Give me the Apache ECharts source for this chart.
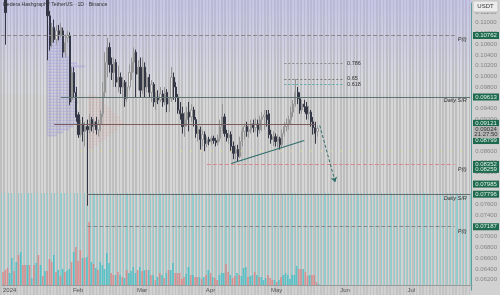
<!DOCTYPE html>
<html>
<head>
<meta charset="utf-8">
<script src="https://cdn.jsdelivr.net/npm/echarts@6/dist/echarts.min.js"></script>
<style>
	html, body { margin: 0; padding: 0; background: #c6c6c6; }
	#wrap { position: relative; width: 500px; height: 295px; overflow: hidden; background: #c5c5c5; }
	.band { position: absolute; left: 0; width: 472px; }
	#top { top: 0; height: 95px; background: repeating-linear-gradient(90deg, #c0c0c3 0 1.6px, #d7d7e0 1.6px 3.3px); }
	#topTint { top: 0; height: 80px; background: linear-gradient(to bottom, rgba(176,176,236,0.45), rgba(176,176,236,0) 80px); }
	#mid { top: 95px; height: 98px; background: repeating-linear-gradient(90deg, #bebebe 0 1.6px, #d6d6d6 1.6px 3.3px); }
	#low { top: 193px; height: 92px; background: repeating-linear-gradient(90deg, #c0c0c0 0 1.1px, #92cccd 1.1px 2.2px, #d3d3d3 2.2px 3.3px); }
	#timeStrip { top: 285px; height: 10px; background: repeating-linear-gradient(90deg, #c3c3c3 0 1.6px, #d0d0d0 1.6px 3.3px); }
	#priceStrip { position: absolute; left: 472px; top: 0; width: 28px; height: 295px; background: #d1d1d1; }
	#chart { position: absolute; left: 0; top: 0; width: 500px; height: 295px; }
</style>
</head>
<body>
<div id="wrap">
	<div class="band" id="top"></div>
	<div class="band" id="topTint"></div>
	<div class="band" id="mid"></div>
	<div class="band" id="low"></div>
	<div class="band" id="timeStrip"></div>
	<div id="priceStrip"></div>
	<div id="chart"></div>
</div>
<script>
	var titleText = 'Hedera Hashgraph / TetherUS · 1D · Binance';

	// daily categories, 29 Dec 2023 .. 28 Jul 2024
	var dates = [];
	(function() {
		var d = new Date(Date.UTC(2023, 11, 29));
		for (var i = 0; i < 213; i++) {
			dates.push(d.toISOString().slice(0, 10));
			d.setUTCDate(d.getUTCDate() + 1);
		}
	})();

	var monthLabels = {
		'2024-01-01': '2024', '2024-02-01': 'Feb', '2024-03-01': 'Mar', '2024-04-01': 'Apr',
		'2024-05-01': 'May', '2024-06-01': 'Jun', '2024-07-01': 'Jul'
	};

	var priceMin = 0.060, priceMax = 0.1137, priceStep = 0.002;

	var opens = [0.1248,0.1211,0.1165,0.1183,0.1211,0.1239,0.1220,0.1257,0.1244,0.1267,0.1230,0.1202,0.1220,0.1193,0.1207,0.1183,0.1196,0.1174,0.1189,0.1170,0.1178,
		0.1156,0.1113,0.1063,0.1091,0.1069,0.1085,0.1078,0.1085,0.1045,0.1072,0.1076,0.0956,0.1007,0.0970,0.0928,0.0891,0.0911,0.0897,0.0906,0.0900,
		0.0919,0.0906,0.0915,0.0900,0.0911,0.0930,0.0970,0.1026,0.1054,0.1022,0.1007,0.1026,0.0989,0.0998,0.0980,0.0989,0.0958,0.0980,0.1007,0.1026,
		0.1045,0.1004,0.1017,0.0974,0.1017,0.0980,0.0998,0.0970,0.0985,0.0952,0.0961,0.0956,0.0967,0.0952,0.0970,0.0948,0.0958,0.0998,0.0980,0.0961,
		0.0937,0.0930,0.0906,0.0919,0.0933,0.0924,0.0937,0.0919,0.0893,0.0900,0.0882,0.0891,0.0874,0.0882,0.0878,0.0884,0.0880,0.0876,0.0884,0.0906,
		0.0924,0.0893,0.0885,0.0891,0.0869,0.0856,0.0863,0.0850,0.0878,0.0897,0.0906,0.0897,0.0900,0.0911,0.0904,0.0911,0.0900,0.0919,0.0924,0.0928,
		0.0930,0.0891,0.0882,0.0887,0.0878,0.0884,0.0872,0.0893,0.0906,0.0911,0.0919,0.0933,0.0948,0.0970,0.0958,0.0937,0.0948,0.0943,0.0930,0.0933,
		0.0915,0.0904,0.0897];
	var closes = [0.1211,0.1174,0.1119,0.1211,0.1239,0.1220,0.1257,0.1244,0.1267,0.1230,0.1202,0.1220,0.1193,0.1207,0.1183,0.1196,0.1174,0.1189,0.1170,0.1178,0.1156,
		0.1113,0.1057,0.1091,0.1069,0.1085,0.1078,0.1091,0.1045,0.1063,0.1076,0.0952,0.1007,0.0970,0.0924,0.0891,0.0911,0.0897,0.0906,0.0900,0.0919,
		0.0906,0.0915,0.0900,0.0911,0.0930,0.0970,0.1026,0.1054,0.1022,0.1007,0.1026,0.0989,0.0998,0.0980,0.0989,0.0958,0.0980,0.1007,0.1026,0.1045,
		0.1004,0.1017,0.0974,0.1017,0.0980,0.0998,0.0970,0.0985,0.0952,0.0961,0.0956,0.0967,0.0952,0.0970,0.0948,0.0958,0.0998,0.0980,0.0961,0.0937,
		0.0930,0.0906,0.0919,0.0933,0.0924,0.0937,0.0919,0.0893,0.0900,0.0882,0.0891,0.0874,0.0882,0.0878,0.0884,0.0880,0.0876,0.0884,0.0906,0.0924,
		0.0893,0.0885,0.0891,0.0869,0.0856,0.0863,0.0850,0.0878,0.0897,0.0906,0.0897,0.0900,0.0911,0.0904,0.0911,0.0900,0.0919,0.0924,0.0928,0.0919,
		0.0891,0.0882,0.0887,0.0878,0.0884,0.0872,0.0893,0.0906,0.0911,0.0919,0.0933,0.0948,0.0970,0.0958,0.0937,0.0948,0.0943,0.0930,0.0933,0.0915,
		0.0904,0.0893,0.09024];
	var lows = [0.1193,0.1156,0.1059,0.1159,0.1193,0.1207,0.1211,0.1230,0.1233,0.1220,0.1183,0.1189,0.1178,0.1174,0.1165,0.1170,0.1159,0.1163,0.1152,0.1148,0.1143,
		0.1030,0.1048,0.1054,0.1063,0.1059,0.1067,0.1072,0.1035,0.1035,0.1063,0.0946,0.0952,0.0961,0.0915,0.0885,0.0887,0.0878,0.0869,0.0758,0.0893,
		0.0897,0.0893,0.0891,0.0887,0.0897,0.0924,0.0961,0.0998,0.1007,0.0993,0.0980,0.0980,0.0970,0.0967,0.0961,0.0943,0.0952,0.0974,0.0993,0.1007,
		0.0961,0.0974,0.0961,0.0967,0.0961,0.0970,0.0961,0.0952,0.0943,0.0937,0.0948,0.0952,0.0943,0.0946,0.0933,0.0933,0.0952,0.0956,0.0952,0.0930,
		0.0919,0.0893,0.0887,0.0906,0.0897,0.0915,0.0906,0.0885,0.0878,0.0863,0.0869,0.0860,0.0867,0.0871,0.0872,0.0874,0.0869,0.0871,0.0878,0.0897,
		0.0887,0.0878,0.0874,0.0860,0.0845,0.0845,0.0841,0.0847,0.0869,0.0882,0.0887,0.0885,0.0893,0.0895,0.0897,0.0887,0.0893,0.0897,0.0900,0.0906,
		0.0884,0.0874,0.0869,0.0869,0.0867,0.0863,0.0867,0.0887,0.0897,0.0900,0.0911,0.0924,0.0943,0.0948,0.0930,0.0930,0.0933,0.0919,0.0919,0.0906,
		0.0891,0.0874,0.0887];
	var highs = [0.1267,0.1230,0.1174,0.1230,0.1252,0.1257,0.1276,0.1270,0.1285,0.1276,0.1239,0.1230,0.1233,0.1220,0.1215,0.1211,0.1204,0.1200,0.1196,0.1189,0.1185,
		0.1174,0.1122,0.1100,0.1106,0.1096,0.1096,0.1100,0.1091,0.1078,0.1085,0.1082,0.1017,0.1017,0.0980,0.0933,0.0919,0.0924,0.0915,0.0919,0.0930,
		0.0924,0.0921,0.0924,0.0919,0.0937,0.0989,0.1045,0.1072,0.1063,0.1035,0.1035,0.1032,0.1020,0.1007,0.0998,0.0993,0.0989,0.1022,0.1035,0.1054,
		0.1050,0.1030,0.1035,0.1035,0.1026,0.1007,0.1004,0.0993,0.0989,0.0970,0.0974,0.0980,0.0974,0.0980,0.0976,0.0961,0.1017,0.1007,0.0989,0.0967,
		0.0952,0.0943,0.0933,0.0943,0.0952,0.0948,0.0943,0.0924,0.0908,0.0906,0.0900,0.0897,0.0887,0.0887,0.0889,0.0889,0.0885,0.0891,0.0919,0.0948,
		0.0930,0.0900,0.0900,0.0897,0.0878,0.0871,0.0872,0.0887,0.0904,0.0911,0.0915,0.0908,0.0919,0.0919,0.0922,0.0919,0.0926,0.0933,0.0937,0.0937,
		0.0937,0.0900,0.0897,0.0893,0.0891,0.0887,0.0900,0.0915,0.0921,0.0926,0.0943,0.0956,0.0995,0.0980,0.0970,0.0956,0.0956,0.0952,0.0945,0.0937,
		0.0924,0.0915,0.0908];
	var volumes = [65,75,85,60,135,70,115,150,165,100,100,100,100,35,100,110,150,100,45,70,70,
		130,115,150,65,75,45,80,65,70,80,115,165,190,120,175,135,135,140,315,115,
		105,85,75,115,100,80,160,110,60,50,50,65,50,40,35,75,60,70,90,60,
		75,90,70,75,75,75,50,50,25,40,60,50,35,60,75,75,110,60,60,60,
		30,40,55,90,50,50,40,40,40,30,40,50,75,60,40,35,25,50,60,60,
		105,65,50,35,45,60,50,45,85,90,40,45,50,65,50,40,40,25,35,50,
		35,25,25,15,25,40,50,60,50,30,50,50,95,80,80,80,65,45,50,50,
		50,15,5];

	// visible range volume profiles: [price, relative volume]
	var profileBin = 0.000555;
	var profileA = [[0.10852,8],[0.10797,10],[0.10741,12],[0.10686,14],[0.10630,15],[0.10575,16],[0.10519,15],[0.10464,16],
		[0.10408,18],[0.10353,20],[0.10297,22],[0.10242,24],[0.10186,30],[0.10131,38],[0.10075,28],[0.10020,26],[0.09964,27],
		[0.09909,28],[0.09853,26],[0.09798,28],[0.09742,30],[0.09687,29],[0.09631,30],[0.09576,28],[0.09520,30],[0.09465,31],
		[0.09409,29],[0.09354,30],[0.09298,31],[0.09243,30],[0.09187,30],[0.09132,31],[0.09076,32],[0.09021,26],[0.08965,22],
		[0.08910,16],[0.08854,10]];
	var profileB = [[0.09576,8],[0.09520,12],[0.09465,15],[0.09409,18],[0.09354,22],[0.09298,25],[0.09243,28],[0.09187,32],
		[0.09132,34],[0.09076,36],[0.09021,33],[0.08965,30],[0.08910,26],[0.08854,22],[0.08799,18],[0.08743,14],[0.08688,10],[0.08632,6]];

	// drawn levels
	var dailySR = [0.0961, 0.0780];
	var profilePoC = [0.1076, 0.0835, 0.0719];
	var fibLevels = [0.1024, 0.0995, 0.0985];
	var fibNames = ['0.786', '0.65', '0.618'];
	var midLevel = 0.0911;
	var dottedLevel = 0.0860;
	var supportLine = [[104, 0.0837], [137, 0.0880]];
	var projection = [[144, 0.0908], [151, 0.0802]];
	var axisTags = [0.10762, 0.09613, 0.09121, 0.08799, 0.08352, 0.08259, 0.07985, 0.07796, 0.07187];
	var countdown = '21:27:50';

	var candles = opens.map(function(o, i) { return [o, closes[i], lows[i], highs[i]]; });
	var lastClose = closes[closes.length - 1];

	function seg(a, b, p, style, extra) {
		var first = { coord: [dates[a], p], lineStyle: style };
		if (extra) for (var k in extra) first[k] = extra[k];
		return [first, { coord: [dates[b], p] }];
	}

	function profileRect(params, api) {
		var a = api.coord([0, api.value(0) + profileBin / 2]);
		var b = api.coord([api.value(1), api.value(0) - profileBin / 2]);
		return {
			type: 'rect',
			shape: { x: a[0], y: a[1], width: b[0] - a[0], height: Math.max(b[1] - a[1] - 1.2, 0.5) },
			style: api.style()
		};
	}

	var dashGray = { color: '#878787', type: 'dashed', width: 1 };

	var lineData = [
		seg(0, 205, profilePoC[0], dashGray),
		seg(93, 205, profilePoC[1], { color: '#d88a8a', type: 'dashed', width: 1 }),
		seg(39, 205, profilePoC[2], dashGray),
		seg(27, 212, dailySR[0], { color: '#5b7574', type: 'solid', width: 1 }),
		seg(39, 212, dailySR[1], { color: '#6b6b6b', type: 'solid', width: 1 }),
		seg(24, 142, midLevel, { color: '#7a5c5c', type: 'solid', width: 1 }),
		seg(36, 212, dottedLevel, { color: '#e8e08a', type: [1, 9], width: 1.5 }),
		[{ coord: [dates[supportLine[0][0]], supportLine[0][1]], lineStyle: { color: '#2f6d69', width: 1.2, type: 'solid' } },
		 { coord: [dates[supportLine[1][0]], supportLine[1][1]] }],
		[{ coord: [dates[projection[0][0]], projection[0][1]], lineStyle: { color: '#2f6d69', width: 1, type: [3, 2] } },
		 { coord: [dates[projection[1][0]], projection[1][1]], symbol: 'arrow', symbolSize: 5 }]
	];
	var fibColors = ['#8a8a8a', '#7a7a7a', '#55a8a6'];
	fibLevels.forEach(function(p, i) {
		lineData.push(seg(128, 155, p, { color: fibColors[i], type: [2, 2], width: 1 }, {
			label: { show: true, position: 'end', distance: 3, formatter: fibNames[i], fontSize: 5.5, color: '#333' }
		}));
	});

	var noteData = [
		{ coord: [dates[212], profilePoC[0]], label: { formatter: 'P(t)', offset: [0, 4] } },
		{ coord: [dates[212], dailySR[0]], label: { formatter: 'Daily S/R', offset: [0, 3.5] } },
		{ coord: [dates[212], profilePoC[1]], label: { formatter: 'P(t)', offset: [0, 5] } },
		{ coord: [dates[212], dailySR[1]], label: { formatter: 'Daily S/R', offset: [0, 4] } },
		{ coord: [dates[212], profilePoC[2]], label: { formatter: 'P(t)', offset: [0, 5] } }
	];

	var chart = echarts.init(document.getElementById('chart'), null, { renderer: 'canvas' });
	chart.setOption({
		animation: false,
		backgroundColor: 'transparent',
		textStyle: { fontFamily: 'Liberation Sans' },
		grid: [
			{ left: 0, right: 28, top: 0, bottom: 4.73 },
			{ left: 0, right: 28, bottom: 10, height: 80 },
			{ left: 47, width: 100, top: 0, bottom: 4.73 },
			{ left: 88, width: 100, top: 0, bottom: 4.73 }
		],
		xAxis: [
			{ type: 'category', gridIndex: 0, data: dates, show: false },
			{ type: 'category', gridIndex: 1, data: dates,
				axisLine: { lineStyle: { color: '#9a9a9a' } }, axisTick: { show: false }, splitLine: { show: false },
				axisLabel: {
					interval: function(i, v) { return !!monthLabels[v]; },
					formatter: function(v) { return monthLabels[v] || ''; },
					fontSize: 6, color: '#555', margin: 2
				} },
			{ type: 'value', gridIndex: 2, min: 0, max: 100, show: false },
			{ type: 'value', gridIndex: 3, min: 0, max: 100, show: false }
		],
		yAxis: [
			{ type: 'value', gridIndex: 0, position: 'right', min: priceMin, max: priceMax, interval: priceStep,
				splitLine: { show: false }, axisTick: { show: false },
				axisLine: { show: true, lineStyle: { color: '#5f9c9a' } },
				axisLabel: { fontSize: 6, color: '#858585', margin: 4,
					formatter: function(v) { return v < 0.0615 ? '' : v.toFixed(5); } } },
			{ type: 'value', gridIndex: 1, min: 0, max: 400, show: false },
			{ type: 'value', gridIndex: 2, min: priceMin, max: priceMax, show: false },
			{ type: 'value', gridIndex: 3, min: priceMin, max: priceMax, show: false }
		],
		series: [
			{ type: 'custom', name: 'profileA', xAxisIndex: 2, yAxisIndex: 2, data: profileA, renderItem: profileRect,
				encode: { x: 1, y: 0 }, itemStyle: { color: 'rgba(160,158,226,0.5)' }, silent: true, z: 1 },
			{ type: 'custom', name: 'profileB', xAxisIndex: 3, yAxisIndex: 3, data: profileB, renderItem: profileRect,
				encode: { x: 1, y: 0 }, itemStyle: { color: 'rgba(228,150,150,0.22)' }, silent: true, z: 1 },
			{ type: 'bar', name: 'Volume', xAxisIndex: 1, yAxisIndex: 1, data: volumes, barWidth: 1.6, silent: true, z: 2,
				itemStyle: { color: function(p) {
					return closes[p.dataIndex] >= opens[p.dataIndex] ? 'rgba(72,190,196,0.85)' : 'rgba(222,126,128,0.8)';
				} } },
			{ type: 'candlestick', name: 'HBARUSDT', xAxisIndex: 0, yAxisIndex: 0, data: candles, barWidth: 1.7, clip: true, z: 3,
				itemStyle: { color: '#e2e2e2', borderColor: '#959595', color0: '#343846', borderColor0: '#343846', borderWidth: 1 },
				markLine: { silent: true, symbol: ['none', 'none'], label: { show: false }, data: lineData },
				markPoint: { silent: true, symbol: 'circle', symbolSize: 1, itemStyle: { color: 'rgba(0,0,0,0)' },
					label: { show: true, position: 'left', distance: 3, fontSize: 5.5, fontStyle: 'italic', color: '#333' },
					data: noteData } }
		]
	});

	// price tags on the right axis, placed through the price scale
	var tagX = 473, tagW = 26;
	var graphics = [
		{ type: 'text', left: 3, top: 2, z: 10, style: { text: titleText, fontSize: 5.2, fill: '#333', fontFamily: 'Liberation Sans' } },
		{ type: 'rect', z: 10, shape: { x: tagX, y: 1, width: 25, height: 11 }, style: { fill: '#ececec', stroke: '#c2c2c2' } },
		{ type: 'text', z: 11, x: tagX + 12.5, y: 6.5, style: { text: 'USDT', fontSize: 6, fill: '#333', align: 'center', verticalAlign: 'middle', fontFamily: 'Liberation Sans' } }
	];
	axisTags.forEach(function(p) {
		var y = chart.convertToPixel({ yAxisIndex: 0 }, p);
		graphics.push({ type: 'rect', z: 10, shape: { x: tagX, y: y - 3.5, width: tagW, height: 7 }, style: { fill: '#1f6a4f' } });
		graphics.push({ type: 'text', z: 11, x: tagX + tagW / 2, y: y, style: { text: p.toFixed(5), fontSize: 6, fill: '#dff2e6',
			align: 'center', verticalAlign: 'middle', fontFamily: 'Liberation Sans' } });
	});
	var yNow = chart.convertToPixel({ yAxisIndex: 0 }, lastClose);
	graphics.push({ type: 'rect', z: 12, shape: { x: tagX, y: yNow - 2.5, width: tagW, height: 12 }, style: { fill: '#b6b6b6' } });
	graphics.push({ type: 'text', z: 13, x: tagX + tagW / 2, y: yNow + 0.5, style: { text: lastClose.toFixed(5), fontSize: 6, fill: '#333',
		align: 'center', verticalAlign: 'middle', fontFamily: 'Liberation Sans' } });
	graphics.push({ type: 'text', z: 13, x: tagX + tagW / 2, y: yNow + 6, style: { text: countdown, fontSize: 6, fill: '#333',
		align: 'center', verticalAlign: 'middle', fontFamily: 'Liberation Sans' } });
	chart.setOption({ graphic: graphics });
</script>
</body>
</html>
